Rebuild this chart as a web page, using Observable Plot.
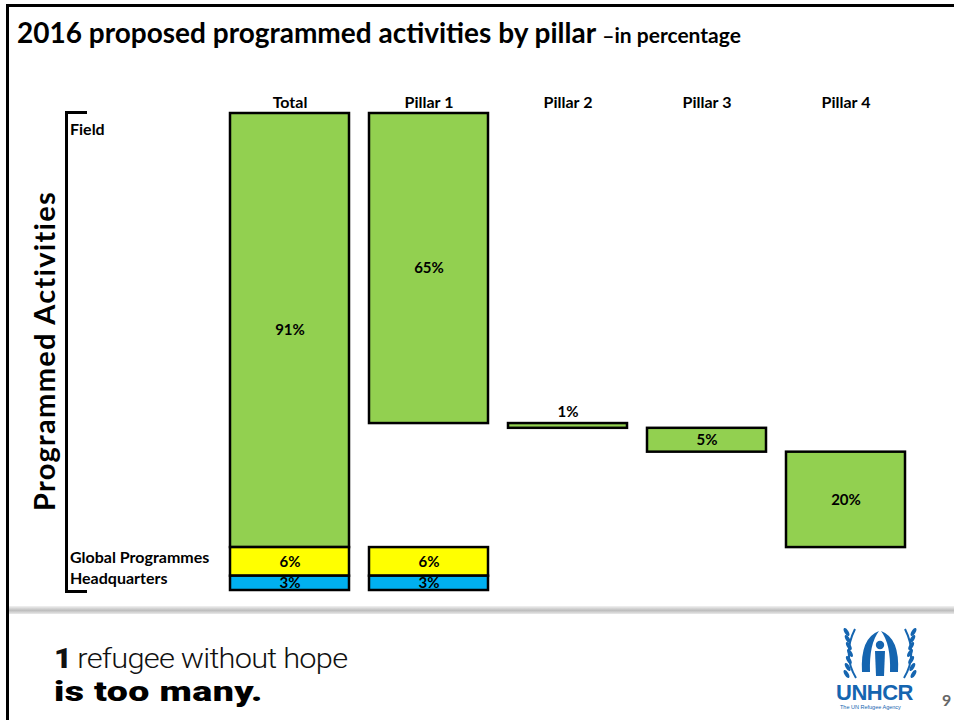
<!DOCTYPE html>
<html>
<head>
<meta charset="utf-8">
<script src="https://cdn.jsdelivr.net/npm/d3@7"></script>
<script src="https://cdn.jsdelivr.net/npm/@observablehq/plot@0.6"></script>
<style>
  html, body { margin: 0; padding: 0; background: #fff; }
  #page { position: relative; width: 954px; height: 720px; overflow: hidden; font-family: Lato, "Open Sans", sans-serif; }
  #page svg.plot { position: absolute; left: 0; top: 0; }
  .abs { position: absolute; white-space: nowrap; }
  #frame { position: absolute; left: 6px; top: 4px; right: -10px; bottom: -10px; border-left: 3px solid #000; border-top: 3px solid #000; }
  #title { left: 17px; top: 15px; font-weight: 700; font-size: 28px; color: #000; }
  #title span { font-size: 21px; }
  #ylabel { left: 43px; top: 351px; transform: translate(-50%, -50%) rotate(-90deg); font-size: 29px; font-weight: 700; letter-spacing: 1.3px; }
  #bracket { position: absolute; left: 65px; top: 111px; width: 19px; height: 476px; border-left: 3px solid #000; border-top: 3px solid #000; border-bottom: 3px solid #000; }
  .rowlab { left: 70px; font-size: 16px; font-weight: 700; transform: translateY(-50%); }
  #sep { position: absolute; left: 9px; top: 606px; width: 945px; height: 8px; background: linear-gradient(#f2f2f2, #bdbdbd 55%, #e9e9e9); }
  #slogan1 { left: 54px; top: 642px; font-family: Roboto, "Liberation Sans", Arial, sans-serif; font-size: 28px; font-weight: 300; letter-spacing: -0.7px; color: #111; transform: scaleX(1.1); transform-origin: 0 50%; }
  #slogan1 b { font-weight: 900; letter-spacing: 0; margin-right: 5px; }
  #slogan2 { left: 54px; top: 675px; font-family: Roboto, "Liberation Sans", Arial, sans-serif; font-size: 28px; font-weight: 900; letter-spacing: 0.3px; color: #000; transform: scaleX(1.34); transform-origin: 0 50%; }
  #unhcr { left: 836px; top: 680px; font-family: "Liberation Sans", Arial, sans-serif; font-size: 22px; font-weight: 700; color: #1565b0; letter-spacing: -0.5px; }
  #agency { left: 840px; top: 704px; font-family: "Liberation Sans", Arial, sans-serif; font-size: 5.5px; color: #1565b0; }
  #pagenum { left: 942px; top: 690px; font-family: Lato, sans-serif; font-size: 16px; font-weight: 700; color: #666; }
  #emblem { position: absolute; left: 841px; top: 626px; }
</style>
</head>
<body>
<div id="page">
  <div id="frame"></div>
</div>
<script>
// ---- data ----
const columns = ["Total", "Pillar 1", "Pillar 2", "Pillar 3", "Pillar 4"];
const fieldShare = [91, 65, 1, 5, 20];                  // % Field
const globalProgrammesShare = [6, 6, null, null, null]; // % Global Programmes
const headquartersShare = [3, 3, null, null, null];     // % Headquarters
const segments = ["Field", "Global Programmes", "Headquarters"];
const segmentColors = ["#92d050", "#ffff00", "#00b0f0"];

// ---- build waterfall table ----
const rows = [];
let cumulative = 0;
columns.forEach((col, i) => {
  const isTotal = i === 0;
  const start = isTotal ? 0 : cumulative;
  rows.push({col, segment: "Field", start, end: start + fieldShare[i], value: fieldShare[i]});
  if (!isTotal) cumulative += fieldShare[i];
  let base = fieldShare[0];
  if (globalProgrammesShare[i] != null) {
    rows.push({col, segment: "Global Programmes", start: base, end: base + globalProgrammesShare[i], value: globalProgrammesShare[i]});
    base += globalProgrammesShare[i];
  }
  if (headquartersShare[i] != null) {
    rows.push({col, segment: "Headquarters", start: base, end: base + headquartersShare[i], value: headquartersShare[i]});
  }
});
const thin = d => d.end - d.start < 2;

const chart = Plot.plot({
  width: 954,
  height: 720,
  marginLeft: 228,
  marginRight: 47,
  marginTop: 113,
  marginBottom: 130,
  style: {fontFamily: "Lato, 'Open Sans', sans-serif", fontSize: "15px", fontWeight: "bold", background: "transparent", overflow: "visible"},
  x: {domain: columns, paddingInner: 0.141, paddingOuter: 0, axis: null},
  y: {domain: [0, 100], reverse: true, axis: null},
  color: {domain: segments, range: segmentColors},
  marks: [
    Plot.axisX({anchor: "top", tickSize: 0, tickPadding: 6, fontSize: 16, fontWeight: "bold", label: null, fill: "#000"}),
    Plot.barY(rows, {x: "col", y1: "start", y2: "end", fill: "segment", stroke: "#000", strokeWidth: 2.5}),
    Plot.text(rows.filter(d => !thin(d)), {x: "col", y: d => (d.start + d.end) / 2, text: d => d.value + "%", fontSize: 15, fontWeight: "bold", fill: "#000"}),
    Plot.text(rows.filter(thin), {x: "col", y: "start", dy: -11, text: d => d.value + "%", fontSize: 15, fontWeight: "bold", fill: "#000"})
  ]
});
chart.classList.add("plot");
const page = document.getElementById("page");
page.appendChild(chart);

function add(id, html, top) {
  const el = document.createElement("div");
  el.className = "abs";
  el.id = id;
  el.innerHTML = html;
  if (top != null) el.style.top = top + "px";
  page.appendChild(el);
  return el;
}
add("title", '2016 proposed programmed activities by pillar <span>–in percentage</span>');
add("ylabel", "Programmed Activities");
const br = document.createElement("div"); br.id = "bracket"; page.appendChild(br);
const r1 = add("f", "Field", 128); r1.classList.add("rowlab");
const r2 = add("g", "Global Programmes", 556); r2.classList.add("rowlab");
const r3 = add("h", "Headquarters", 577); r3.classList.add("rowlab");
const sep = document.createElement("div"); sep.id = "sep"; page.appendChild(sep);
add("slogan1", "<b>1</b>refugee without hope");
add("slogan2", "is too many.");
add("unhcr", "UNHCR");
add("agency", "The UN Refugee Agency");
add("pagenum", "9");

// simple emblem
const emb = document.createElementNS("http://www.w3.org/2000/svg", "svg");
emb.setAttribute("id", "emblem");
emb.setAttribute("width", 78);
emb.setAttribute("height", 56);
const blue = "#1565b0";
let inner = "";
inner += `<path d="M15 52 Q1 29 14 3" fill="none" stroke="${blue}" stroke-width="2"/>`;
inner += `<path d="M63 52 Q77 29 64 3" fill="none" stroke="${blue}" stroke-width="2"/>`;
for (let k = 0; k < 7; k++) {
  const y = 48 - k * 7;
  const off = 9 - 7 * Math.abs(0.5 - k / 6);
  inner += `<ellipse cx="${off}" cy="${y}" rx="2" ry="4.5" fill="${blue}" transform="rotate(-30 ${off} ${y})"/>`;
  inner += `<ellipse cx="${78 - off}" cy="${y}" rx="2" ry="4.5" fill="${blue}" transform="rotate(30 ${78 - off} ${y})"/>`;
}
inner += `<path d="M21 46 Q19 12 38 5 Q28 18 29 46 Z" fill="${blue}"/>`;
inner += `<path d="M57 46 Q59 12 40 5 Q50 18 49 46 Z" fill="${blue}"/>`;
inner += `<circle cx="39" cy="19" r="4.2" fill="${blue}"/>`;
inner += `<path d="M34 25 L44 25 L43 50 L35 50 Z" fill="${blue}"/>`;
emb.innerHTML = inner;
page.appendChild(emb);
</script>
</body>
</html>
